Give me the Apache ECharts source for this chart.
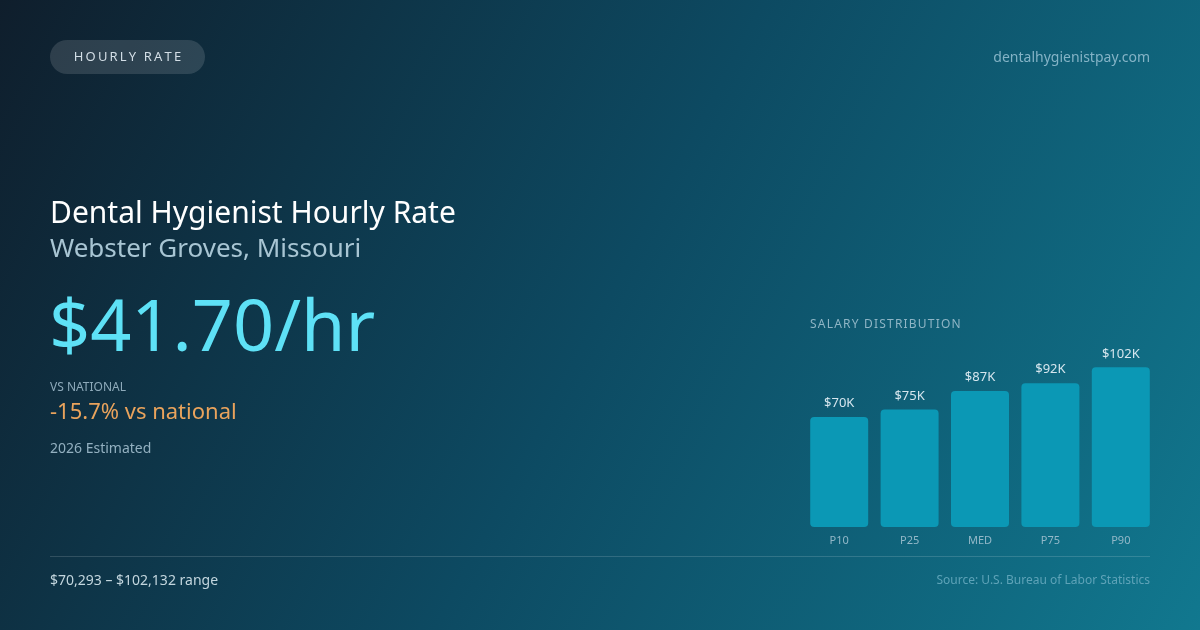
<!DOCTYPE html>
<html><head><meta charset="utf-8">
<script src="https://cdn.jsdelivr.net/npm/echarts@6/dist/echarts.min.js"></script>
<style>html,body{margin:0;padding:0;}#c{width:1200px;height:630px;}</style>
</head><body><div id="c"></div>
<script>
const categories = ['P10', 'P25', 'MED', 'P75', 'P90'];
const salaryK = [70.3, 75.2, 87.0, 92.0, 102.1];
const rangeText = '$70,293 – $102,132 range';
const hourly = '$41.70/hr';
const vsNational = '-15.7% vs national';

const F = '"Noto Sans", "Open Sans", sans-serif';
const spaced = (s, sp) => s.split('').join(sp);
const chart = echarts.init(document.getElementById('c'), null, {renderer: 'canvas'});
chart.setOption({
  backgroundColor: new echarts.graphic.LinearGradient(0, 0, 1, 1, [
    {offset: 0, color: '#0f1e2c'},
    {offset: 0.5, color: '#0d4a62'},
    {offset: 1, color: '#11788f'}
  ]),
  animation: false,
  grid: {left: 804, right: 44, top: 355, height: 172},
  xAxis: {
    type: 'category', data: categories,
    axisLine: {show: false}, axisTick: {show: false},
    axisLabel: {color: '#93b8c8', fontSize: 11, fontFamily: F, margin: 8}
  },
  yAxis: {type: 'value', min: 0, max: 110, show: false, splitLine: {show: false}},
  series: [{
    type: 'bar', data: salaryK, barWidth: 58,
    itemStyle: {color: '#0b98b5', borderRadius: 4},
    label: {show: true, position: 'top', distance: 7, color: '#d6e6ee', fontSize: 13, fontFamily: F,
      formatter: p => '$' + Math.round(p.value) + 'K'}
  }],
  graphic: [
    {type: 'rect', shape: {x: 50, y: 40, width: 155, height: 34, r: 17}, style: {fill: 'rgba(255,255,255,0.13)'}},
    {type: 'text', x: 127.5, y: 57, style: {text: spaced('HOURLY RATE', '\u2009'), fill: '#d3dee6', font: '13px ' + F, align: 'center', verticalAlign: 'middle'}},
    {type: 'text', x: 1150, y: 58, style: {text: 'dentalhygienistpay.com', fill: '#84b3c6', font: '14px ' + F, align: 'right', verticalAlign: 'middle'}},
    {type: 'text', x: 50, y: 214, style: {text: 'Dental Hygienist Hourly Rate', fill: '#ffffff', font: '30px ' + F, verticalAlign: 'middle'}},
    {type: 'text', x: 50, y: 250, style: {text: 'Webster Groves, Missouri', fill: '#a8c5d3', font: '26px ' + F, verticalAlign: 'middle'}},
    {type: 'text', x: 49, y: 330, style: {text: hourly, fill: '#5ee1f6', font: '72px ' + F, verticalAlign: 'middle'}},
    {type: 'text', x: 50, y: 388, style: {text: 'VS NATIONAL', fill: '#8eaaba', font: '12px ' + F, verticalAlign: 'middle'}},
    {type: 'text', x: 50, y: 413, style: {text: vsNational, fill: '#e9a35c', font: '22px ' + F, verticalAlign: 'middle'}},
    {type: 'text', x: 50, y: 449, style: {text: '2026 Estimated', fill: '#93b0c0', font: '14px ' + F, verticalAlign: 'middle'}},
    {type: 'text', x: 810, y: 325, style: {text: spaced('SALARY DISTRIBUTION', '\u200a'), fill: '#8fb5c5', font: '12px ' + F, verticalAlign: 'middle'}},
    {type: 'line', shape: {x1: 50, y1: 556.5, x2: 1150, y2: 556.5}, style: {stroke: 'rgba(255,255,255,0.15)', lineWidth: 1}},
    {type: 'text', x: 50, y: 581, style: {text: rangeText, fill: '#c3d6de', font: '14px ' + F, verticalAlign: 'middle'}},
    {type: 'text', x: 1150, y: 581, style: {text: 'Source: U.S. Bureau of Labor Statistics', fill: '#5ea3b8', font: '12px ' + F, align: 'right', verticalAlign: 'middle'}}
  ]
});
</script></body></html>
